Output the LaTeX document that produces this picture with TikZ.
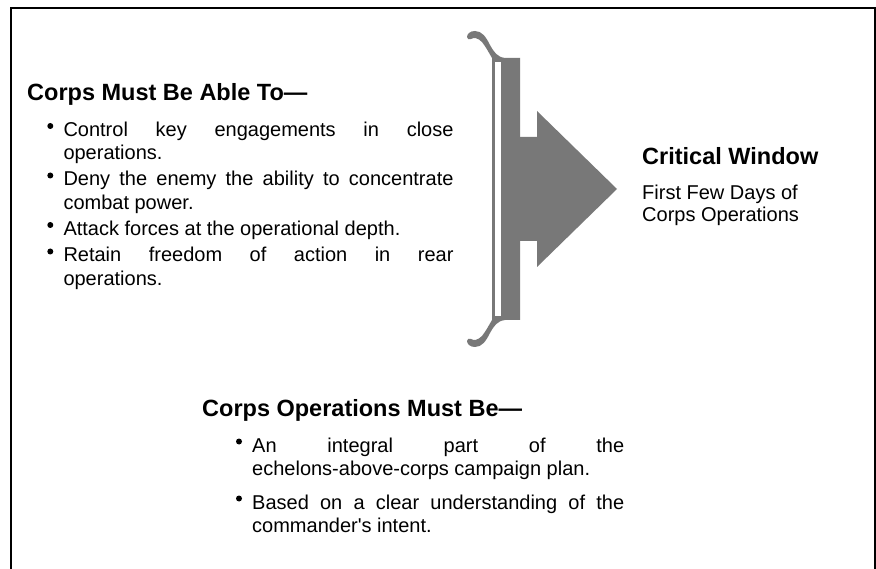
\documentclass[tikz,border=0pt]{standalone}
\usepackage{fontspec}
\setmainfont{Liberation Sans}
\definecolor{brk}{RGB}{120,120,120}
\begin{document}
\begin{tikzpicture}[x=1pt,y=-1pt,
  body/.style={anchor=base west, inner sep=0pt, font=\fontsize{20}{24}\selectfont},
  head/.style={anchor=base west, inner sep=0pt, font=\bfseries\fontsize{23.5}{28}\selectfont},
  bdot/.style={circle, fill=black, minimum size=6pt, inner sep=0pt},
  frameline/.style={line width=2.2pt, black},
  bracketfill/.style={fill=brk}]
\useasboundingbox (0,0) rectangle (876,569);
\fill[white] (0,0) rectangle (876,569);
% frame (open at the bottom)
\draw[frameline] (11,569) -- (11,7.7) -- (874.6,7.7) -- (874.6,569);

% bracket with arrow
\fill[bracketfill] (520,58) -- (505,58)
  .. controls (497,57) and (494,52) .. (490,45)
  .. controls (486,37) and (482,31) .. (475,31)
  .. controls (470,31) and (467,34) .. (467,37)
  .. controls (467,39) and (469,40) .. (471,39)
  .. controls (474,37) and (478,38) .. (482,42)
  .. controls (486,47) and (489,53) .. (492,58)
  -- (492,320)
  .. controls (489,325) and (486,331) .. (482,336)
  .. controls (478,340) and (474,341) .. (471,339)
  .. controls (469,338) and (467,339) .. (467,341)
  .. controls (467,344) and (470,347) .. (475,347)
  .. controls (482,347) and (486,341) .. (490,333)
  .. controls (494,326) and (497,321) .. (505,320)
  -- (520,320) -- cycle;
\fill[bracketfill] (519,137) -- (537,137) -- (537,111) -- (617,189) -- (537,267) -- (537,241) -- (519,241) -- cycle;
\fill[white] (495.2,62) rectangle (501,316);

% left block
\node[head] (t1) at (27,101) {Corps Must Be Able To—};
\node[body] (l1) at (63.3,136.5) {\makebox[390pt][s]{Control key engagements in close}};
\node[body] (l2) at (63.3,160) {operations.};
\node[body] (l3) at (63.3,186) {\makebox[390pt][s]{Deny the enemy the ability to concentrate}};
\node[body] (l4) at (63.3,210) {combat power.};
\node[body] (l5) at (63.3,235.5) {Attack forces at the operational depth.};
\node[body] (l6) at (63.3,262) {\makebox[390pt][s]{Retain freedom of action in rear}};
\node[body] (l7) at (63.3,286) {operations.};
\node[bdot] (d1) at (50.3,126) {};
\node[bdot] (d2) at (50.3,175.5) {};
\node[bdot] (d3) at (50.3,225) {};
\node[bdot] (d4) at (50.3,251.5) {};

% right block
\node[head] (cw) at (642,165) {Critical Window};
\node[body] (r1) at (642,200) {First Few Days of};
\node[body] (r2) at (642,222) {Corps Operations};

% bottom block
\node[head] (t2) at (202,417) {Corps Operations Must Be—};
\node[body] (m1) at (252,452) {\makebox[372pt][s]{An integral part of the}};
\node[body] (m2) at (252,475) {echelons-above-corps campaign plan.};
\node[body] (m3) at (252,509) {\makebox[372pt][s]{Based on a clear understanding of the}};
\node[body] (m4) at (252,532) {commander\textquotesingle s intent.};
\node[bdot] (e1) at (239,441.5) {};
\node[bdot] (e2) at (239,498.5) {};
\end{tikzpicture}
\end{document}
